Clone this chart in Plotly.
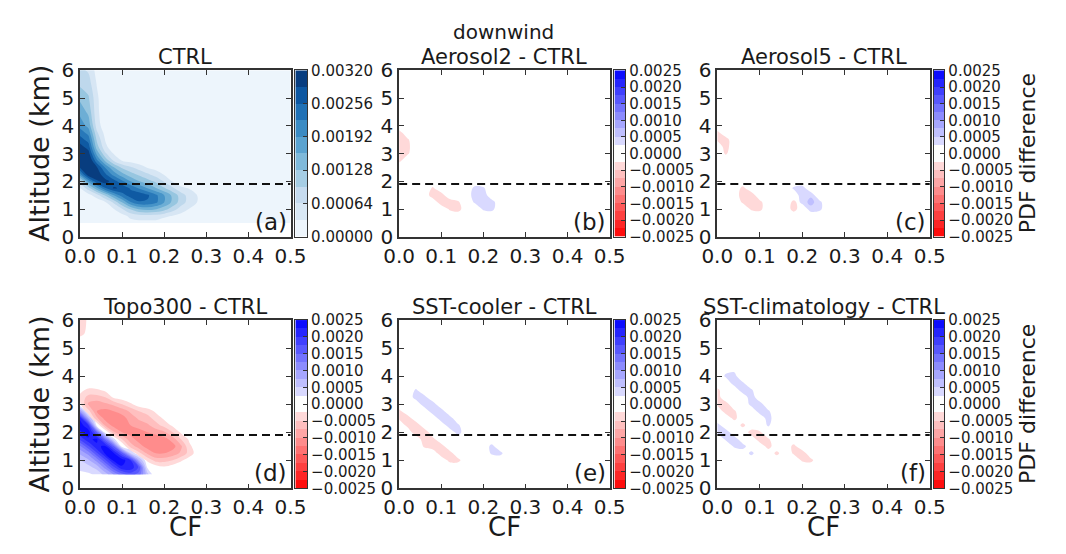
import numpy as np
import plotly.graph_objects as go

# ---------------------------------------------------------------- data grid
CF = [0.00, 0.02, 0.04, 0.06, 0.08, 0.10, 0.12, 0.14, 0.16, 0.18,
      0.20, 0.22, 0.24, 0.26, 0.28, 0.30, 0.50]
ALT = [0.50, 0.75, 1.00, 1.25, 1.50, 1.75, 2.00, 2.25, 2.50, 2.75,
       3.00, 3.25, 3.50, 3.75, 4.00, 4.50, 5.00, 5.50, 6.00]
SCALE = 1e-4  # grid values below are stored in units of 1e-4

# CTRL joint PDF of cloud fraction and altitude (rows follow ALT, columns CF)
PDF_CTRL = [
    [0, 0, 0, 0, 0, 1, 2, 2, 2, 2, 1, 1, 0, 0, 0, 0, 0],
    [0, 0, 0, 0, 1, 2, 4, 5, 5, 5, 4, 3, 2, 1, 0, 0, 0],
    [0, 0, 0, 1, 3, 6, 10, 13, 14, 13, 11, 8, 5, 3, 1, 0, 0],
    [0, 0, 1, 3, 7, 13, 19, 22, 22, 20, 16, 12, 8, 5, 3, 1, 0],
    [1, 2, 5, 10, 16, 21, 24, 25, 23, 20, 16, 12, 8, 5, 3, 1, 0],
    [3, 8, 15, 22, 26, 25, 22, 19, 16, 13, 10, 7, 4, 3, 1, 0, 0],
    [8, 17, 25, 27, 24, 20, 16, 13, 11, 9, 6, 3, 1, 0, 0, 0, 0],
    [18, 28, 28, 23, 18, 14, 11, 9, 7, 5, 3, 2, 1, 0, 0, 0, 0],
    [26, 31, 26, 19, 13, 9, 7, 5, 3, 2, 1, 0, 0, 0, 0, 0, 0],
    [30, 30, 20, 12, 6, 3, 2, 1, 0, 0, 0, 0, 0, 0, 0, 0, 0],
    [29, 27, 15, 7, 3, 1, 0, 0, 0, 0, 0, 0, 0, 0, 0, 0, 0],
    [27, 24, 11, 4, 1, 0, 0, 0, 0, 0, 0, 0, 0, 0, 0, 0, 0],
    [24, 21, 9, 3, 1, 0, 0, 0, 0, 0, 0, 0, 0, 0, 0, 0, 0],
    [21, 18, 7, 2, 0, 0, 0, 0, 0, 0, 0, 0, 0, 0, 0, 0, 0],
    [18, 15, 5, 1, 0, 0, 0, 0, 0, 0, 0, 0, 0, 0, 0, 0, 0],
    [15, 12, 4, 1, 0, 0, 0, 0, 0, 0, 0, 0, 0, 0, 0, 0, 0],
    [12, 10, 4, 0, 0, 0, 0, 0, 0, 0, 0, 0, 0, 0, 0, 0, 0],
    [9, 8, 3, 0, 0, 0, 0, 0, 0, 0, 0, 0, 0, 0, 0, 0, 0],
    [7, 6, 2, 0, 0, 0, 0, 0, 0, 0, 0, 0, 0, 0, 0, 0, 0],
]

# Topo300 - CTRL difference (rows follow ALT, columns CF)
DIFF_TOPO300 = [
    [2, 2, 3, 6, 10, 14, 16, 14, 6, 0, 0, 0, 0, 0, 0, 0, 0],
    [3, 4, 6, 11, 17, 22, 22, 17, 2, -1, -2, -1, 0, 0, 0, 0, 0],
    [5, 7, 11, 17, 23, 24, 20, 8, -3, -6, -6, -5, -3, -1, 0, 0, 0],
    [8, 11, 17, 23, 23, 16, 5, -4, -8, -10, -10, -9, -7, -4, -1, 0, 0],
    [12, 17, 22, 23, 15, 1, -6, -9, -11, -12, -12, -11, -8, -3, -1, 0, 0],
    [18, 22, 23, 14, 3, -5, -9, -11, -12, -12, -11, -9, -5, -2, 0, 0, 0],
    [22, 24, 15, 1, -7, -10, -11, -11, -10, -9, -8, -5, -2, 0, 0, 0, 0],
    [24, 20, 1, -8, -11, -11, -10, -9, -8, -6, -4, -2, 0, 0, 0, 0, 0],
    [22, 8, -7, -11, -12, -11, -9, -7, -6, -4, -2, -1, 0, 0, 0, 0, 0],
    [10, -4, -10, -11, -10, -9, -7, -5, -4, -2, -1, 0, 0, 0, 0, 0, 0],
    [-2, -8, -9, -8, -7, -5, -3, -1, 0, 0, 0, 0, 0, 0, 0, 0, 0],
    [-3, -6, -6, -5, -2, -1, 0, 0, 0, 0, 0, 0, 0, 0, 0, 0, 0],
    [-2, -3, -3, -2, -1, 0, 0, 0, 0, 0, 0, 0, 0, 0, 0, 0, 0],
    [-1, -1, 0, 0, 0, 0, 0, 0, 0, 0, 0, 0, 0, 0, 0, 0, 0],
    [0, 0, 0, 0, 0, 0, 0, 0, 0, 0, 0, 0, 0, 0, 0, 0, 0],
    [0, 0, 0, 0, 0, 0, 0, 0, 0, 0, 0, 0, 0, 0, 0, 0, 0],
    [0, 0, 0, 0, 0, 0, 0, 0, 0, 0, 0, 0, 0, 0, 0, 0, 0],
    [-3, -2, 0, 0, 0, 0, 0, 0, 0, 0, 0, 0, 0, 0, 0, 0, 0],
    [-4, -2, 0, 0, 0, 0, 0, 0, 0, 0, 0, 0, 0, 0, 0, 0, 0],
]

# Weak differences, listed as non-zero grid nodes: (CF, altitude, value)
DIFF_AEROSOL2 = [
    (0.00, 2.75, -3.5), (0.00, 3.00, -4.5), (0.00, 3.25, -4.5), (0.00, 3.50, -4.5), (0.00, 3.75, -4),
    (0.02, 3.00, -3), (0.02, 3.25, -3.5), (0.02, 3.50, -3),
    (0.08, 1.75, -3), (0.08, 1.50, -4.5), (0.10, 1.50, -4), (0.10, 1.25, -4.5),
    (0.12, 1.25, -4.5), (0.12, 1.00, -3), (0.14, 1.00, -4), (0.14, 1.25, -3),
    (0.18, 1.75, 3.5), (0.18, 1.50, 4.5), (0.18, 1.25, 3), (0.20, 1.75, 3), (0.20, 1.50, 4.5),
    (0.20, 1.25, 4.5), (0.20, 1.00, 3), (0.22, 1.25, 4), (0.22, 1.00, 3.5),
]
DIFF_AEROSOL5 = [
    (0.00, 3.75, -3.5), (0.00, 3.50, -3), (0.02, 3.50, -4), (0.02, 3.25, -4), (0.02, 3.00, -3),
    (0.06, 1.75, -3.5), (0.06, 1.50, -4.5), (0.06, 1.25, -3), (0.08, 1.50, -4.5), (0.08, 1.25, -4.5),
    (0.08, 1.00, -3), (0.10, 1.25, -3.5), (0.10, 1.00, -3.5),
    (0.18, 1.00, -4), (0.18, 1.25, -3.5),
    (0.18, 1.75, 3), (0.20, 1.75, 4), (0.20, 1.50, 4.5), (0.22, 1.50, 4.5), (0.22, 1.25, 6),
    (0.20, 1.25, 3.5), (0.24, 1.25, 3.5), (0.24, 1.00, 3.5), (0.22, 1.00, 4),
]
DIFF_SST_COOLER = [
    (0.04, 3.50, 3), (0.04, 3.25, 4), (0.06, 3.25, 3.5), (0.06, 3.00, 4.5), (0.08, 3.00, 4),
    (0.08, 2.75, 4.5), (0.10, 2.75, 4), (0.10, 2.50, 4.5), (0.12, 2.50, 4), (0.12, 2.25, 4.5),
    (0.14, 2.25, 3), (0.14, 2.00, 4),
    (0.00, 2.75, -3.5), (0.00, 2.50, -3), (0.02, 2.50, -4.5), (0.02, 2.25, -3.5), (0.04, 2.25, -5),
    (0.04, 2.00, -5), (0.06, 2.00, -5), (0.06, 1.75, -4.5), (0.06, 1.50, -3), (0.08, 1.75, -3.5),
    (0.08, 1.50, -4.5), (0.10, 1.50, -4), (0.10, 1.25, -4.5), (0.12, 1.25, -4), (0.12, 1.00, -3.5),
    (0.14, 1.00, -3.5),
    (0.22, 1.50, 3.5), (0.22, 1.25, 3), (0.24, 1.25, 3.5),
]
DIFF_SST_CLIM = [
    (0.02, 4.00, 3), (0.04, 4.00, 3.5), (0.04, 3.75, 4), (0.06, 3.75, 3), (0.06, 3.50, 4.5),
    (0.08, 3.50, 3), (0.08, 3.25, 4.5), (0.08, 3.00, 3.5), (0.10, 3.00, 4), (0.10, 2.75, 4),
    (0.12, 2.75, 3), (0.12, 2.50, 4), (0.12, 2.25, 3),
    (0.00, 3.50, -3.5), (0.00, 3.25, -4), (0.00, 3.00, -3), (0.02, 3.00, -4), (0.02, 2.75, -4),
    (0.04, 2.75, -3), (0.04, 2.50, -3.5), (0.06, 2.25, -3.5),
    (0.00, 2.25, 4), (0.00, 2.00, 3), (0.02, 2.00, 4.5), (0.02, 1.75, 3), (0.04, 1.75, 4.5),
    (0.04, 1.50, 3), (0.06, 1.50, 4), (0.08, 1.25, 3.5),
    (0.08, 2.00, -4), (0.10, 2.00, -3), (0.10, 1.75, -4.5), (0.12, 1.75, -3), (0.12, 1.50, -4),
    (0.14, 1.25, -3.5),
    (0.18, 1.50, -3.5), (0.18, 1.25, -3), (0.20, 1.25, -4.5), (0.20, 1.00, -3), (0.22, 1.00, -3.5),
]

TITLES = ["CTRL", "Aerosol2 - CTRL", "Aerosol5 - CTRL",
          "Topo300 - CTRL", "SST-cooler - CTRL", "SST-climatology - CTRL"]
PANEL_TAGS = ["(a)", "(b)", "(c)", "(d)", "(e)", "(f)"]
SUPTITLE = "downwind"
CF_TICKS = [0.0, 0.1, 0.2, 0.3, 0.4, 0.5]
ALT_TICKS = [0, 1, 2, 3, 4, 5, 6]
BOUNDARY_ALT = 1.9

PDF_STEP, PDF_MAX = 0.00032, 0.0032
DIFF_STEP, DIFF_MAX = 0.00025, 0.0025
PDF_CBAR_TICKS = [0.0, 0.00064, 0.00128, 0.00192, 0.00256, 0.0032]
DIFF_CBAR_TICKS = [-0.0025, -0.0020, -0.0015, -0.0010, -0.0005, 0.0,
                   0.0005, 0.0010, 0.0015, 0.0020, 0.0025]

# ---------------------------------------------------------------- colours
BLUES = ["#f7fbff", "#deebf7", "#c6dbef", "#9ecae1", "#6baed6",
         "#4292c6", "#2171b5", "#08519c", "#08306b"]
CLEAR = "rgba(255,255,255,0)"


def hex_rgb(h):
    return [int(h[i:i + 2], 16) for i in (1, 3, 5)]


def blues(t):
    pos = t * (len(BLUES) - 1)
    i = min(int(pos), len(BLUES) - 2)
    f = pos - i
    a, b = hex_rgb(BLUES[i]), hex_rgb(BLUES[i + 1])
    c = [round(a[k] + (b[k] - a[k]) * f) for k in range(3)]
    return f"rgb({c[0]},{c[1]},{c[2]})"


def red_white_blue(t):
    if t < 0.5:
        v = round(255 * 2 * t)
        return f"rgb(255,{v},{v})"
    v = round(255 * (2 - 2 * t))
    return f"rgb({v},{v},255)"


n_pdf = int(round(PDF_MAX / PDF_STEP))            # 10 bands
n_diff = int(round(2 * DIFF_MAX / DIFF_STEP))     # 20 bands
half = n_diff // 2
pdf_colors = [blues((j + 0.5) / n_pdf) for j in range(n_pdf)]
diff_colors = [red_white_blue((j + 0.5) / n_diff) for j in range(n_diff)]
diff_colors[half - 1] = "rgb(255,255,255)"
diff_colors[half] = "rgb(255,255,255)"


def band_scale(colors):
    n = len(colors) - 1
    return [[j / n, c] for j, c in enumerate(colors)]


PDF_SCALE = band_scale(pdf_colors)
DIFF_SCALE = band_scale(diff_colors)
# magnitude bands for the positive (blue) and negative (red) halves;
# the weakest band is left see-through so the panel stays white
POS_SCALE = band_scale([CLEAR] + diff_colors[half + 1:])
NEG_SCALE = band_scale([CLEAR] + diff_colors[:half - 1][::-1])

# ---------------------------------------------------------------- layout
W, H = 1066, 554
COLS_PX = [(66, 283), (395, 612), (723, 942)]
ROWS_PX = [(61, 235), (322, 498)]
CBAR_PX = [(288, 300), (617, 628), (946, 957)]
FONT = "DejaVu Sans"
INK = "#1a1a1a"
LINE = "#333333"


def fx(p):
    return p / W


def fy(p):
    return 1 - p / H


def ax_id(letter, n):
    return letter if n == 1 else f"{letter}{n}"


def sparse_grid(points):
    z = np.zeros((len(ALT), len(CF)))
    for cf, alt, v in points:
        z[ALT.index(alt), CF.index(cf)] = v
    return z


fields = [
    np.array(PDF_CTRL, float),
    sparse_grid(DIFF_AEROSOL2),
    sparse_grid(DIFF_AEROSOL5),
    np.array(DIFF_TOPO300, float),
    sparse_grid(DIFF_SST_COOLER),
    sparse_grid(DIFF_SST_CLIM),
]

fig = go.Figure()
layout = dict(
    width=W, height=H, margin=dict(l=0, r=0, t=0, b=0),
    paper_bgcolor="white", plot_bgcolor="white", showlegend=False,
    font=dict(family=FONT, color=INK),
)
annotations = []
shapes = []


def add_contour(z, xa, ya, start, end, step, scale):
    fig.add_trace(go.Contour(
        x=CF, y=ALT, z=z, xaxis=xa, yaxis=ya,
        autocontour=False,
        contours=dict(start=start, end=end, size=step, coloring="fill", showlines=False),
        line=dict(width=0, smoothing=1.0),
        colorscale=scale, showscale=False, hoverinfo="skip",
    ))


for i, field in enumerate(fields):
    r, c = divmod(i, 3)
    n = i + 1
    xa, ya = ax_id("x", n), ax_id("y", n)
    is_pdf = i == 0
    if is_pdf:
        step, lo, hi = PDF_STEP, 0.0, PDF_MAX
        add_contour(field * SCALE, xa, ya, step, PDF_MAX - 2 * step, step, PDF_SCALE)
        scale = PDF_SCALE
        cticks = PDF_CBAR_TICKS
        ctext = [f"{v:.5f}" for v in cticks]
    else:
        step, lo, hi = DIFF_STEP, -DIFF_MAX, DIFF_MAX
        add_contour(np.clip(field, 0, None) * SCALE, xa, ya,
                    step, DIFF_MAX - step, step, POS_SCALE)
        add_contour(np.clip(-field, 0, None) * SCALE, xa, ya,
                    step, DIFF_MAX - step, step, NEG_SCALE)
        scale = DIFF_SCALE
        cticks = DIFF_CBAR_TICKS
        ctext = [f"{v:.4f}".replace("-", "\u2212") if abs(v) > 1e-12 else "0.0000"
                 for v in cticks]

    x0, x1 = COLS_PX[c]
    y0, y1 = ROWS_PX[r]
    layout[xa.replace("x", "xaxis")] = dict(
        domain=[fx(x0), fx(x1)], anchor=ya, range=[0, 0.5],
        tickvals=CF_TICKS, tickformat=".1f", ticks="inside", ticklen=5, tickwidth=1.2,
        tickcolor=LINE, mirror="ticks", showline=True, linecolor=LINE, linewidth=1.6,
        showgrid=False, zeroline=False, tickfont=dict(size=20, color=INK),
    )
    layout[ya.replace("y", "yaxis")] = dict(
        domain=[fy(y1), fy(y0)], anchor=xa, range=[0, 6],
        tickvals=ALT_TICKS, ticks="inside", ticklen=5, tickwidth=1.2,
        tickcolor=LINE, mirror="ticks", showline=True, linecolor=LINE, linewidth=1.6,
        showgrid=False, zeroline=False, tickfont=dict(size=20, color=INK),
    )

    # colour key drawn as a banded heatmap beside the panel
    nb = n_pdf if is_pdf else n_diff
    edges = [lo + k * step for k in range(nb + 1)]
    mids = [(edges[k] + edges[k + 1]) / 2 for k in range(nb)]
    m = 6 + n
    fig.add_trace(go.Heatmap(
        x=[0, 1], y=edges, z=[[v] for v in mids],
        xaxis=f"x{m}", yaxis=f"y{m}",
        colorscale=scale, zmin=mids[0], zmax=mids[-1],
        showscale=False, hoverinfo="skip",
    ))
    cx0, cx1 = CBAR_PX[c]
    layout[f"xaxis{m}"] = dict(
        domain=[fx(cx0), fx(cx1)], anchor=f"y{m}", range=[0, 1],
        showticklabels=False, ticks="", showgrid=False, zeroline=False,
        showline=True, linecolor=LINE, linewidth=1.2, mirror=True,
    )
    layout[f"yaxis{m}"] = dict(
        domain=[fy(y1), fy(y0)], anchor=f"x{m}", side="right", range=[lo, hi],
        tickvals=cticks, ticktext=ctext, ticks="inside", ticklen=4, tickwidth=1,
        tickcolor=LINE, showgrid=False, zeroline=False,
        showline=True, linecolor=LINE, linewidth=1.2, mirror=True,
        tickfont=dict(size=15, color=INK),
    )

    shapes.append(dict(
        type="line", xref=f"{xa} domain", yref=ya,
        x0=0, x1=1, y0=BOUNDARY_ALT, y1=BOUNDARY_ALT,
        line=dict(color="#111111", width=2, dash="8px,5px"),
    ))

    # panel title and tag
    title_y = 47 if r == 0 else 308
    annotations.append(dict(
        text=TITLES[i], xref="paper", yref="paper",
        x=fx((x0 + x1) / 2), y=fy(title_y), xanchor="center", yanchor="middle",
        showarrow=False, font=dict(size=21, color=INK),
    ))
    annotations.append(dict(
        text=PANEL_TAGS[i], xref=xa, yref=ya, x=0.5, y=0,
        xanchor="right", yanchor="bottom", xshift=-2, yshift=0,
        showarrow=False, font=dict(size=23, color=INK),
    ))

# shared labels
annotations.append(dict(
    text=SUPTITLE, xref="paper", yref="paper", x=fx(503), y=fy(21),
    xanchor="center", yanchor="middle", showarrow=False, font=dict(size=20, color=INK),
))
for (y0, y1) in ROWS_PX:
    yc = (y0 + y1) / 2
    annotations.append(dict(
        text="Altitude (km)", xref="paper", yref="paper", x=fx(24), y=fy(yc),
        xanchor="center", yanchor="middle", textangle=-90, showarrow=False,
        font=dict(size=27, color=INK),
    ))
    annotations.append(dict(
        text="PDF difference", xref="paper", yref="paper", x=fx(1043), y=fy(yc),
        xanchor="center", yanchor="middle", textangle=-90, showarrow=False,
        font=dict(size=22, color=INK),
    ))
for (x0, x1) in COLS_PX:
    annotations.append(dict(
        text="CF", xref="paper", yref="paper", x=fx((x0 + x1) / 2), y=fy(538),
        xanchor="center", yanchor="middle", showarrow=False, font=dict(size=26, color=INK),
    ))

layout["annotations"] = annotations
layout["shapes"] = shapes
fig.update_layout(**layout)
fig.write_html("out.html")
